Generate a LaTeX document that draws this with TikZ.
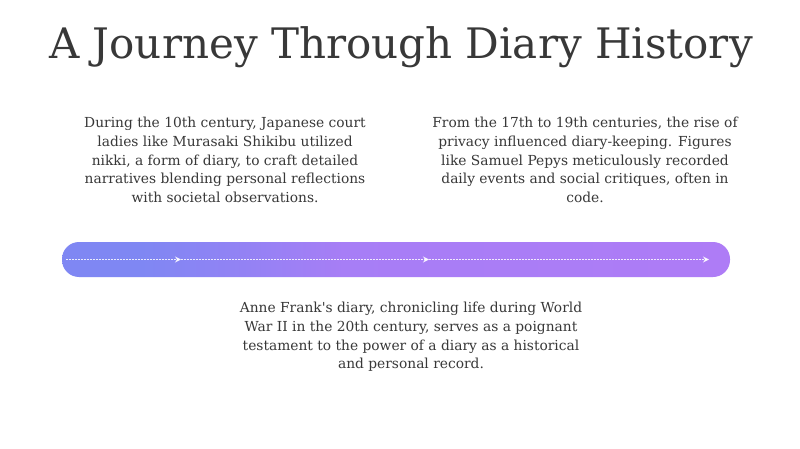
\documentclass[tikz,border=0pt]{standalone}
\usepackage{fontspec}
\setmainfont{DejaVu Serif}
\usetikzlibrary{arrows.meta,positioning}
\definecolor{textgray}{HTML}{383838}
\definecolor{barblue}{HTML}{7F87F3}
\definecolor{barpurple}{HTML}{AE7CF6}
\pgfdeclarehorizontalshading{barshade}{100bp}{color(0bp)=(barblue); color(25bp)=(barblue); color(31bp)=(barblue); color(46bp)=(barpurple!85!barblue); color(75bp)=(barpurple); color(100bp)=(barpurple)}

\begin{document}
\begin{tikzpicture}[x=1pt, y=-1pt, >={Stealth[length=6pt,width=6pt]}, thick,
    title node/.style={font=\fontsize{42}{48}\selectfont, text=textgray, inner sep=0pt},
    story node/.style={font=\fontsize{13.8}{18.7}\selectfont, text=textgray, align=center, inner sep=0pt},
    flow line/.style={white, opacity=0.85, line width=1.1pt, dash pattern=on 2pt off 1pt}]
                \useasboundingbox[fill=white] (0,0) rectangle (800,449);

                \node[title node] (title) at (401,47) {A Journey Through Diary History};

                \node[story node] (japan) at (225,160) {During the 10th century, Japanese court\\ ladies like Murasaki Shikibu utilized\\ nikki, a form of diary, to craft detailed\\ narratives blending personal reflections\\ with societal observations.};
                \node[story node] (pepys) at (585,160) {From the 17th to 19th centuries, the rise of\\ privacy influenced diary-keeping. Figures\\ like Samuel Pepys meticulously recorded\\ daily events and social critiques, often in\\ code.};
                \node[story node] (frank) at (411,337) {Anne Frank\textquotesingle s diary, chronicling life during World\\ War II in the 20th century, serves as a poignant\\ testament to the power of a diary as a historical\\ and personal record.};

                \shade[shading=barshade, rounded corners=17pt] (62,242) rectangle (730,277);

                \coordinate (start) at (66,259.5);
                \coordinate (m1) at (181,259.5);
                \coordinate (m2) at (429,259.5);
                \coordinate (end) at (709,259.5);

                \path[flow line]
                    (start) edge[->] (m1)
                    (m1) edge[->] (m2)
                    (m2) edge[->] (end)
                ;
            \end{tikzpicture}
\end{document}
